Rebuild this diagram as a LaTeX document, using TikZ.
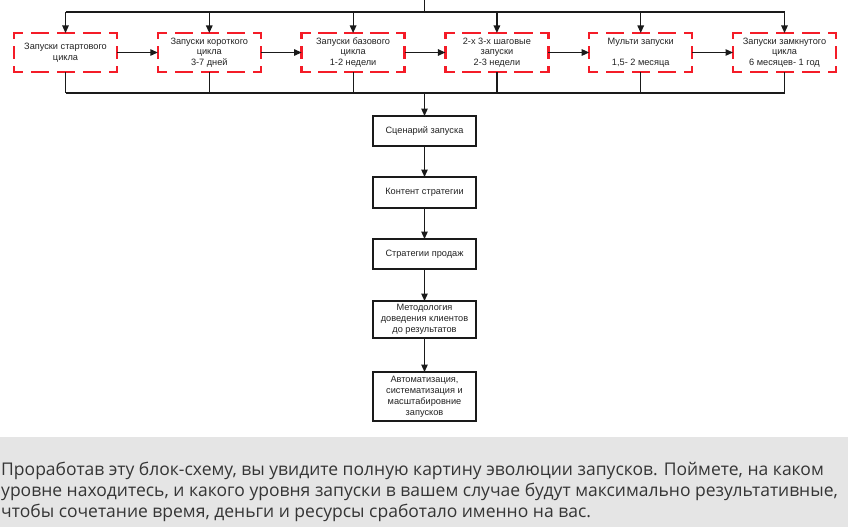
\documentclass[tikz,border=0pt]{standalone}
\usepackage{fontspec}
\setmainfont{Liberation Sans}
\newfontfamily\panelfont{Open Sans}
\usetikzlibrary{arrows.meta}
\definecolor{boxred}{RGB}{244,28,40}
\definecolor{panelgray}{HTML}{E5E5E5}
\definecolor{paneltext}{HTML}{353535}
\definecolor{boxtext}{HTML}{222222}
\definecolor{linecol}{HTML}{1A1A1A}
\tikzset{
  arr/.style={linecol, line width=1.2pt, -{Triangle[length=7.5pt,width=6.5pt]}},
  ln/.style={linecol, line width=1.2pt},
  redbox/.style={minimum width=103pt, minimum height=39pt, inner sep=0pt, outer sep=0pt,
    align=center, font=\fontsize{9.2}{10.6}\selectfont, text=boxtext},
  blackbox/.style={draw=linecol, line width=1.2pt, minimum width=103pt, inner sep=0pt, outer sep=0pt,
    align=center, font=\fontsize{9.2}{11}\selectfont, text=boxtext},
  hd/.style={boxred, line width=2.4pt, line cap=rect, dash pattern=on 16pt off 10pt, dash phase=8pt},
  vd/.style={boxred, line width=2.4pt, line cap=rect, dash pattern=on 10pt off 9.5pt, dash phase=5pt},
  captext/.style={anchor=base west, inner sep=0pt, text=paneltext,
      font=\panelfont\fontsize{17.5}{21}\selectfont},
}
\begin{document}
\begin{tikzpicture}[x=1pt,y=-1pt]
\useasboundingbox (0,0) rectangle (848,527);
\fill[panelgray] (0,437) rectangle (848,527);

% red dashed boxes
\node[redbox] (r1) at (65.5,52.5) {Запуски стартового\\цикла};
\node[redbox] (r2) at (209.3,52.5) {Запуски короткого\\цикла\\3-7 дней};
\node[redbox] (r3) at (353.1,52.5) {Запуски базового\\цикла\\1-2 недели};
\node[redbox] (r4) at (496.9,52.5) {2-х 3-х шаговые\\запуски\\2-3 недели};
\node[redbox] (r5) at (640.7,52.5) {Мульти запуски\\\mbox{}\\1,5- 2 месяца};
\node[redbox] (r6) at (784.5,52.5) {Запуски замкнутого\\цикла\\6 месяцев- 1 год};
\foreach \n in {r1,r2,r3,r4,r5,r6}{
  \draw[hd] (\n.north west) -- (\n.north east);
  \draw[hd] (\n.south west) -- (\n.south east);
  \draw[vd] (\n.north west) -- (\n.south west);
  \draw[vd] (\n.north east) -- (\n.south east);
}

% central chain
\node[blackbox, minimum height=30pt] (c1) at (424.5,131) {Сценарий запуска};
\node[blackbox, minimum height=31pt] (c2) at (424.5,192.5) {Контент стратегии};
\node[blackbox, minimum height=30pt] (c3) at (424.5,254) {Стратегии продаж};
\node[blackbox, minimum height=37pt] (c4) at (424.5,319.5) {Методология\\доведения клиентов\\до результатов};
\node[blackbox, minimum height=49pt] (c5) at (424.5,396.5) {Автоматизация,\\систематизация и\\масштабировние\\запусков};

% top distribution
\coordinate (top) at (424.5,0);
\coordinate (topbar) at (424.5,12);
\draw[ln] (top) -- (topbar);
\draw[ln] (r1.north |- topbar) -- (r6.north |- topbar);
\foreach \n in {r1,r2,r3,r4,r5,r6}{
  \draw[arr] (\n.north |- topbar) -- (\n.north);
}

% horizontal arrows
\draw[arr] (r1.east) -- (r2.west);
\draw[arr] (r2.east) -- (r3.west);
\draw[arr] (r3.east) -- (r4.west);
\draw[arr] (r4.east) -- (r5.west);
\draw[arr] (r5.east) -- (r6.west);

% bottom collection
\coordinate (botbar) at (424.5,93);
\foreach \n in {r1,r2,r3,r4,r5,r6}{
  \draw[ln] (\n.south) -- (\n.south |- botbar);
}
\draw[ln] (r1.south |- botbar) -- (r6.south |- botbar);
\draw[arr] (botbar) -- (c1.north);
\draw[arr] (c1) -- (c2);
\draw[arr] (c2) -- (c3);
\draw[arr] (c3) -- (c4);
\draw[arr] (c4) -- (c5);

% caption panel
\node[captext] (cap1) at (1,475) {Проработав эту блок-схему, вы увидите полную картину эволюции запусков. Поймете, на каком};
\node[captext] (cap2) at (1,496) {уровне находитесь, и какого уровня запуски в вашем случае будут максимально результативные,};
\node[captext] (cap3) at (1,517) {чтобы сочетание время, деньги и ресурсы сработало именно на вас.};
\end{tikzpicture}
\end{document}
